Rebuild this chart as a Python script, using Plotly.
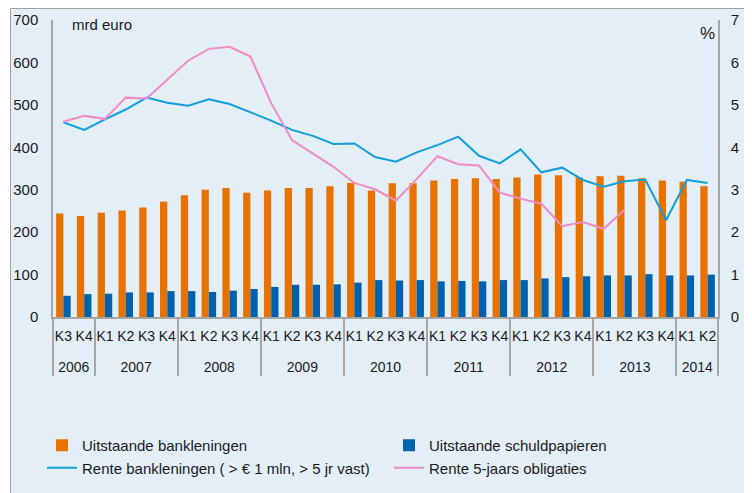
import plotly.graph_objects as go

ZW = "\u200b"  # zero-width marker keeps the 2006 quarters from fixing the category order
years = ["2006"] * 2 + [y for y in ["2007", "2008", "2009", "2010", "2011", "2012", "2013"] for _ in range(4)] + ["2014"] * 2
quarters = ["K3" + ZW, "K4" + ZW] + ["K1", "K2", "K3", "K4"] * 7 + ["K1", "K2"]

bankleningen = [244, 238, 246, 251, 258, 272, 287, 300, 304, 293, 298, 304, 304, 308, 316, 298,
                315, 315, 322, 325, 327, 325, 329, 336, 334, 329, 332, 333, 327, 322, 319, 308]
schuldpapieren = [50, 54, 55, 58, 58, 61, 61, 59, 62, 66, 71, 76, 76, 77, 81, 87,
                  86, 87, 84, 85, 84, 87, 87, 91, 94, 96, 98, 98, 101, 98, 98, 100]
rente_bank = [4.59, 4.41, 4.66, 4.89, 5.17, 5.05, 4.98, 5.13, 5.02, 4.82, 4.63, 4.41, 4.27, 4.08, 4.09, 3.77,
              3.66, 3.88, 4.05, 4.25, 3.80, 3.62, 3.95, 3.41, 3.52, 3.23, 3.07, 3.20, 3.24, 2.28, 3.23, 3.16]
rente_obl = [4.60, 4.74, 4.67, 5.17, 5.15, 5.59, 6.04, 6.32, 6.37, 6.14, 5.04, 4.17, 3.86, 3.54, 3.16, 3.01,
             2.74, 3.25, 3.79, 3.60, 3.57, 2.93, 2.79, 2.67, 2.14, 2.24, 2.08, 2.53, None, None, None, None]

# year labels sit one line lower under the quarter labels
x = [["<br>" + y for y in years], quarters]
FONT = "Arial, Liberation Sans, sans-serif"
TXT = "#1a1a1a"
GREY = "#a6a6a6"

fig = go.Figure()
fig.add_trace(go.Bar(x=x, y=bankleningen, name="Uitstaande bankleningen",
                     marker=dict(color="#e87200", line=dict(width=0))))
fig.add_trace(go.Bar(x=x, y=schuldpapieren, name="Uitstaande schuldpapieren",
                     marker=dict(color="#0062ac", line=dict(width=0))))
fig.add_trace(go.Scatter(x=x, y=rente_bank, name="Rente bankleningen ( > € 1 mln, > 5 jr vast)",
                         mode="lines", line=dict(color="#109fdb", width=2), yaxis="y2"))
fig.add_trace(go.Scatter(x=x, y=rente_obl, name="Rente 5-jaars obligaties",
                         mode="lines", line=dict(color="#f18bc8", width=2), yaxis="y2"))

# the page body adds an 8px offset; figure pixel = reference pixel - 8
OFF = 8
W, H = 744, 485
L, R, T, B = 53 - OFF, W - (718 - OFF), 20 - OFF, H - (317 - OFF)
pw, ph = W - L - R, H - T - B

def px2x(p):
    return (p - OFF - L) / pw

def px2y(p):
    return (H - B - (p - OFF)) / ph

fig.update_layout(
    width=W, height=H,
    margin=dict(l=L, r=R, t=T, b=B, autoexpand=False),
    paper_bgcolor="white",
    plot_bgcolor="rgba(0,0,0,0)",
    font=dict(family=FONT, size=15, color=TXT),
    barmode="group", bargap=0.3, bargroupgap=0,
    xaxis=dict(type="multicategory", showline=True, linecolor=GREY, linewidth=1.5,
               showdividers=True, dividercolor=GREY, dividerwidth=1.5, tickangle=0,
               ticks="", ticklabelstandoff=5, showgrid=False, tickfont=dict(size=14, color=TXT)),
    yaxis=dict(range=[0, 700], tickvals=[0, 100, 200, 300, 400, 500, 600, 700],
               showgrid=False, zeroline=False, showline=True, linecolor=GREY, linewidth=1.5,
               ticks="", ticklabelstandoff=10, tickfont=dict(size=15, color=TXT)),
    yaxis2=dict(range=[0, 7], tickvals=[0, 1, 2, 3, 4, 5, 6, 7], overlaying="y", side="right",
                showgrid=False, zeroline=False, showline=True, linecolor=GREY, linewidth=1.5,
                ticks="", ticklabelstandoff=8, tickfont=dict(size=15, color=TXT)),
    legend=dict(orientation="h", xref="paper", yref="paper", x=px2x(42), y=px2y(429),
                xanchor="left", yanchor="top", entrywidth=302, traceorder="normal",
                bgcolor="rgba(0,0,0,0)", font=dict(family=FONT, size=15, color=TXT)),
    shapes=[dict(type="rect", xref="paper", yref="paper", layer="below",
                 x0=px2x(10.5), x1=px2x(780), y0=px2y(520), y1=px2y(8.5),
                 fillcolor="#e4eef7", line=dict(color="#a0a0a0", width=1))],
    annotations=[
        dict(text="mrd euro", xref="paper", yref="paper", x=px2x(70), y=px2y(24),
             xanchor="left", yanchor="middle", showarrow=False, font=dict(size=15, color=TXT)),
        dict(text="%", xref="paper", yref="paper", x=px2x(717), y=px2y(33),
             xanchor="right", yanchor="middle", showarrow=False, font=dict(size=17, color=TXT)),
    ],
)

fig.write_html("out.html")
